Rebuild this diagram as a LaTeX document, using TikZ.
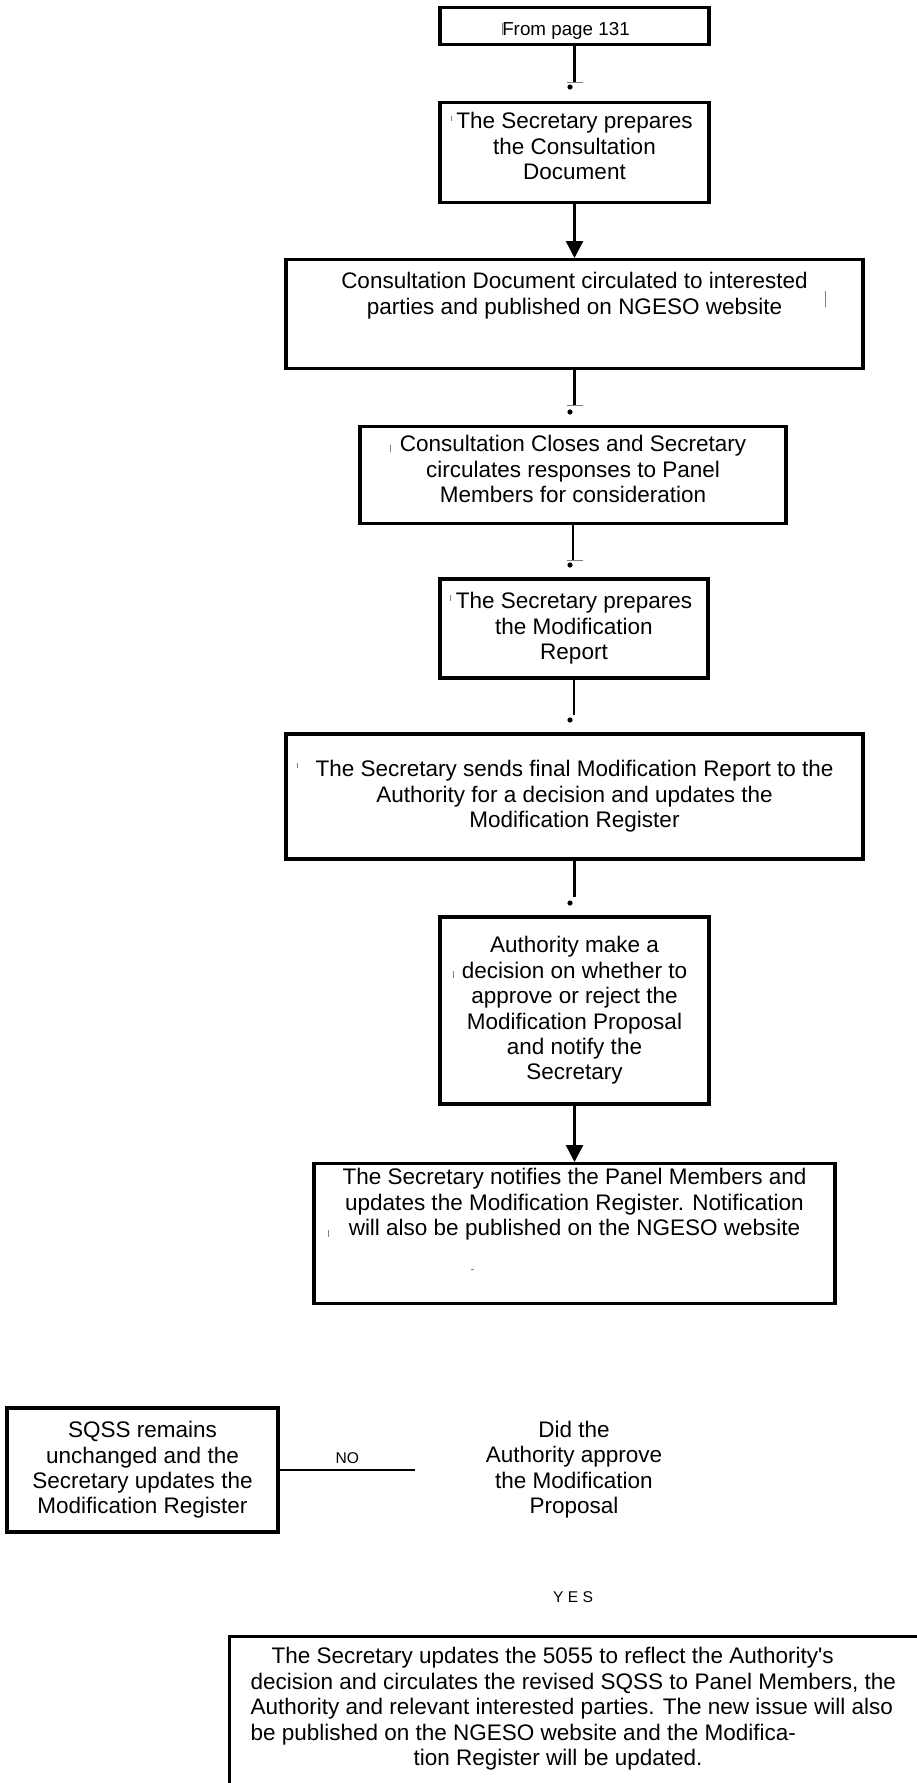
\documentclass[tikz,border=0pt]{standalone}
\usepackage{fontspec}
\setmainfont{Liberation Sans}
\usetikzlibrary{arrows.meta}

\newcommand\boxfont{\fontsize{11.25}{12.7}\selectfont}
\newcommand\tagfont{\fontsize{7.8}{9}\selectfont}

\tikzset{
  box/.style={draw, line width=1.6pt, align=center, inner sep=0pt, font=\boxfont},
  link/.style={line width=1.25pt},
  arr/.style={link, -{Triangle[length=8.5pt, width=8.5pt]}},
  dot/.style={circle, fill, inner sep=0pt, minimum size=2.6pt},
  stray/.style={gray, line width=0.4pt},
}

\begin{document}
\begin{tikzpicture}[x=0.5pt, y=-0.5pt]
\useasboundingbox (0,0) rectangle (916,1783);

% Main column of steps
\node[box, anchor=north, minimum width=134.5pt, font=\fontsize{9.4}{11}\selectfont] (b1) at (574.5,6)
    {\parbox[c][18.5pt][t]{130pt}{\vspace*{7.6pt}\centering From page 131\hspace*{8.5pt}}};
\node[box, anchor=north, minimum width=134.5pt] (b2) at (574.5,101)
    {\parbox[c][50pt][t]{130pt}{\vspace*{4.9pt}\centering
    The Secretary prepares\\ the Consultation\\ Document}};
\node[box, anchor=north, minimum width=288.5pt] (b3) at (574.5,258)
    {\parbox[c][54.5pt][t]{280pt}{\vspace*{6.5pt}\centering
    Consultation Document circulated to interested\hspace*{16.5pt}\\
    parties and published on  NGESO website}};
\node[box, anchor=north, minimum width=213pt] (b4) at (573,425)
    {\parbox[c][48.5pt][t]{205pt}{\vspace*{4.4pt}\centering
    Consultation Closes and Secretary\\ circulates responses to Panel\\ Members for consideration}};
\node[box, minimum width=134pt, minimum height=49.5pt] (b5) at (574,628.5)
    {The Secretary prepares\\ the Modification\\ Report};
\node[box, minimum width=288.5pt, minimum height=62.5pt] (b6) at (574.5,796.5)
    {The Secretary sends final Modification Report to the\\ Authority for a decision and updates the\\ Modification Register};
\node[box, minimum width=134.5pt, minimum height=93.5pt] (b7) at (574.5,1010.5)
    {Authority make a\\ decision on whether to\\ approve or reject the\\ Modification Proposal\\ and notify the\\ Secretary};
\node[box, anchor=north, minimum width=260.5pt] (b8) at (574.5,1162)
    {\parbox[c][70pt][t]{255pt}{\vspace*{2.5pt}\centering
    The Secretary notifies the Panel Members and\\
    updates the Modification Register. Notification\\
    will also be published on the NGESO website}};

% Decision
\node[font=\boxfont, align=center] (ask) at (574,1469.5)
    {Did the\\ Authority approve\\ the Modification\\ Proposal};
\node[box, minimum width=135.5pt, minimum height=62pt] (b9) at (142.5,1470)
    {SQSS remains\\ unchanged and the\\ Secretary updates the\\ Modification Register};
\node[font=\tagfont] (yes) at (573,1597.5) {Y E S};
\node[box, anchor=north west, inner xsep=10.5pt] (b10) at (228,1635)
    {\parbox[c][110pt][t]{330pt}{\vspace*{5.5pt}\raggedright
    \hspace*{10.5pt}The Secretary updates the 5055 to reflect the Authority\textquotesingle s\\
    decision and circulates the revised SQSS to Panel Members, the\\
    Authority and relevant interested parties. The new issue will also\\
    be published on the NGESO website and the Modifica-\\
    \hspace*{81.5pt}tion Register will be updated.}};

% Links ending in a dot
\foreach \a/\ey/\dy [count=\i] in {b1/82/87, b3/405/412, b4/560/565, b5/715/720, b6/897/903} {
    \coordinate (e\i) at (\a.south |- 0,\ey);
    \draw[link] (\a.south) -- (e\i);
    \node[dot] (d\i) at (570,\dy) {};
}

% Arrows
\draw[arr] (b2) -- (b3);
\draw[arr] (b7) -- (b8);

% NO branch
\coordinate (noend) at (415,1470);
\draw[link] (b9) -- node[above, font=\tagfont, inner sep=2.5pt] (no) {NO} (noend);

% Stray marks
\foreach \x/\y/\h in {502/23/12, 451/116/5, 825/291/16, 390/445/7, 450/595/6, 297/763/5, 453/971/7, 328/1230/7}
    \draw[stray] (\x,\y) -- ++(0,\h);
\foreach \y in {82, 405, 560}
    \draw[stray] (567,\y) -- ++(16,0);
\draw[stray] (471,1269) -- ++(3,0);
\end{tikzpicture}
\end{document}
